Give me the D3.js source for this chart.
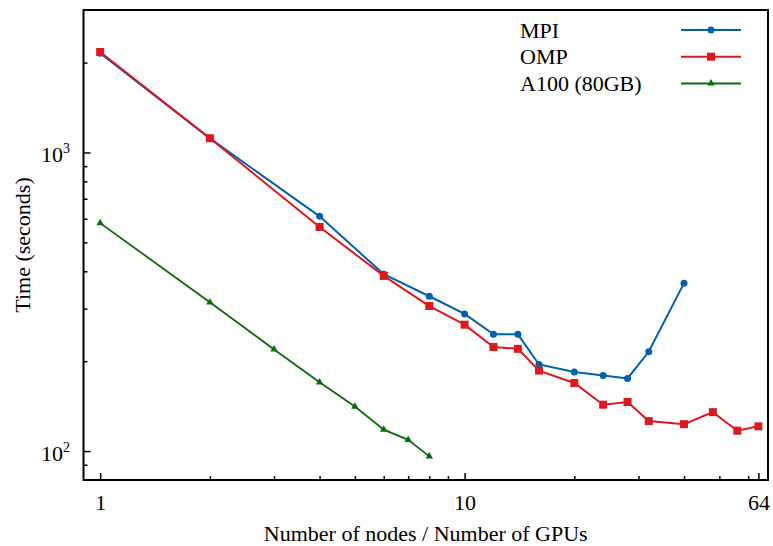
<!DOCTYPE html>
<html>
<head>
<meta charset="utf-8">
<script src="https://cdn.jsdelivr.net/npm/d3@7/dist/d3.min.js"></script>
<style>
  html, body { margin: 0; padding: 0; background: #fff; }
  svg text { font-family: "Liberation Serif", "DejaVu Serif", serif; fill: #000; }
</style>
</head>
<body>
<svg id="chart" width="773" height="546"></svg>
<script>
// ---- Data ----
const mpiNodes = [1, 2, 4, 6, 8, 10, 12, 14, 16, 20, 24, 28, 32, 40];
const mpiTime  = [2150, 1115, 611, 391, 330, 288, 246, 246, 195, 184, 179, 175, 215, 365];

const ompNodes = [1, 2, 4, 6, 8, 10, 12, 14, 16, 20, 24, 28, 32, 40, 48, 56, 64];
const ompTime  = [2170, 1116, 563, 386, 306, 265, 223, 220, 186, 169, 143, 146, 126, 123, 135, 117, 121];

const gpuCount = [1, 2, 3, 4, 5, 6, 7, 8];
const gpuTime  = [580, 315, 219, 170, 141, 118, 109, 96];

const seriesNames = ["MPI", "OMP", "A100 (80GB)"];
const seriesColors = ["#0060ad", "#dd181f", "#0b6b0b"];

const xMajorTicks = [1, 10, 64];
const xMinorTicks = [2, 3, 4, 5, 6, 7, 8, 9, 20, 30, 40, 50, 60];
const yMajorTicks = [100, 1000];
const yMajorLabels = [["10", "2"], ["10", "3"]];
const yMinorTicks = [90, 200, 300, 400, 500, 600, 700, 800, 900, 2000];

const xTitle = "Number of nodes / Number of GPUs";
const yTitle = "Time (seconds)";

// ---- Layout ----
const svg = d3.select("#chart");
const L = 83.5, R = 768, T = 10, B = 480;
const FS = "22px";

const x = d3.scaleLog().domain([0.9, 68]).range([L, R]);
const y = d3.scaleLog().domain([80, 3000]).range([B, T]);

// ---- Axes (ticks inward) ----
const gx = svg.append("g").attr("transform", `translate(0,${B})`);
gx.call(d3.axisBottom(x).tickValues(xMajorTicks).tickSizeInner(-7).tickSizeOuter(0).tickFormat(d3.format("d")));
gx.append("g").call(d3.axisBottom(x).tickValues(xMinorTicks).tickSizeInner(-4).tickSizeOuter(0).tickFormat(""));
gx.selectAll(".domain").remove();
gx.selectAll(".tick line").attr("stroke", "#000").attr("stroke-width", 1.5);
gx.selectAll(".tick text").attr("y", 30).attr("dy", null)
  .style("font-size", FS).attr("font-family", null);

const gy = svg.append("g").attr("transform", `translate(${L},0)`);
gy.call(d3.axisLeft(y).tickValues(yMajorTicks).tickSizeInner(-7).tickSizeOuter(0).tickFormat(""));
gy.append("g").call(d3.axisLeft(y).tickValues(yMinorTicks).tickSizeInner(-4).tickSizeOuter(0).tickFormat(""));
gy.selectAll(".domain").remove();
gy.selectAll(".tick line").attr("stroke", "#000").attr("stroke-width", 1.5);

// y labels with superscripts
yMajorTicks.forEach((v, i) => {
  const t = svg.append("text")
    .attr("x", 70).attr("y", y(v) + 10)
    .attr("text-anchor", "end")
    .style("font-size", FS);
  t.append("tspan").text(yMajorLabels[i][0]);
  t.append("tspan").attr("dy", -9).style("font-size", "14px").text(yMajorLabels[i][1]);
});

// ---- Lines & markers ----
const line = d3.line().x(d => x(d[0])).y(d => y(d[1]));
const mpi = mpiNodes.map((n, i) => [n, mpiTime[i]]);
const omp = ompNodes.map((n, i) => [n, ompTime[i]]);
const gpu = gpuCount.map((n, i) => [n, gpuTime[i]]);

const plot = svg.append("g");
plot.append("path").datum(gpu).attr("d", line).attr("fill", "none")
  .attr("stroke", seriesColors[2]).attr("stroke-width", 1.8);
plot.selectAll(".tri").data(gpu).enter().append("path")
  .attr("transform", d => `translate(${x(d[0])},${y(d[1])})`)
  .attr("d", d3.symbol(d3.symbolTriangle, 24))
  .attr("fill", seriesColors[2]);

plot.append("path").datum(mpi).attr("d", line).attr("fill", "none")
  .attr("stroke", seriesColors[0]).attr("stroke-width", 2);
plot.selectAll(".circ").data(mpi).enter().append("circle")
  .attr("cx", d => x(d[0])).attr("cy", d => y(d[1])).attr("r", 3.5)
  .attr("fill", seriesColors[0]);

plot.append("path").datum(omp).attr("d", line).attr("fill", "none")
  .attr("stroke", seriesColors[1]).attr("stroke-width", 2);
plot.selectAll(".sq").data(omp).enter().append("rect")
  .attr("x", d => x(d[0]) - 4).attr("y", d => y(d[1]) - 4)
  .attr("width", 8).attr("height", 8)
  .attr("fill", seriesColors[1]);

// ---- Frame ----
svg.append("rect").attr("x", L).attr("y", T).attr("width", R - L).attr("height", B - T)
  .attr("fill", "none").attr("stroke", "#000").attr("stroke-width", 2);

// ---- Legend ----
const lg = svg.append("g");
seriesNames.forEach((name, i) => {
  const ly = 30 + i * 26.7;
  lg.append("text").attr("x", 520).attr("y", ly + 7.5).style("font-size", FS).text(name);
  lg.append("line").attr("x1", 681).attr("x2", 741).attr("y1", ly).attr("y2", ly)
    .attr("stroke", seriesColors[i]).attr("stroke-width", 2);
  const mx = 711;
  if (i === 0) lg.append("circle").attr("cx", mx).attr("cy", ly).attr("r", 3.5).attr("fill", seriesColors[0]);
  if (i === 1) lg.append("rect").attr("x", mx - 4).attr("y", ly - 4).attr("width", 8).attr("height", 8).attr("fill", seriesColors[1]);
  if (i === 2) lg.append("path").attr("transform", `translate(${mx},${ly})`).attr("d", d3.symbol(d3.symbolTriangle, 24)).attr("fill", seriesColors[2]);
});

// ---- Titles ----
svg.append("text").attr("x", (L + R) / 2).attr("y", 541).attr("text-anchor", "middle")
  .style("font-size", FS).text(xTitle);
svg.append("text").attr("transform", `translate(30,${(T + B) / 2}) rotate(-90)`)
  .attr("text-anchor", "middle").style("font-size", FS).text(yTitle);
</script>
</body>
</html>
